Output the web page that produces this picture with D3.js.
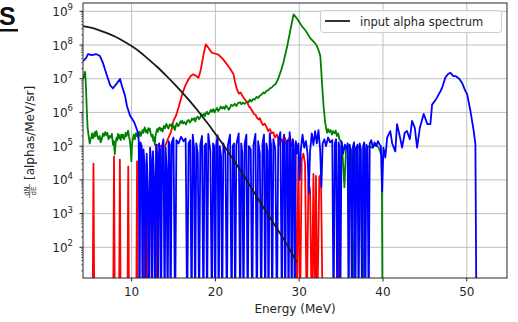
<!DOCTYPE html>
<html>
<head>
<meta charset="utf-8">
<script src="https://cdn.jsdelivr.net/npm/d3@7"></script>
<style>
  body { margin: 0; background: #fff; }
  svg { display: block; font-family: "DejaVu Sans", sans-serif; }
</style>
</head>
<body>
<div id="chart"></div>
<script>
// energies in MeV, values in alphas/MeV/sr (0 = empty bin)
const inputSpectrum = [[4.2,3.63e8],[5,3.31e8],[6,2.82e8],[7,2.29e8],[8,1.78e8],[9,1.32e8],[10,9.3e7],
  [11,6.2e7],[12,3.8e7],[13,2.3e7],[14,1.32e7],[15,7.4e6],[16,4.0e6],[17,2.1e6],[18,1.05e6],[19,5.0e5],
  [20,2.3e5],[21,1.05e5],[22,4.5e4],[23,1.9e4],[24,7.6e3],[25,3.0e3],[26,1.2e3],[27,490],[28,200],[29,76],[29.7,36]];

const redSpectrum = [[4.2,0],[5.35,0],[5.45,3e4],[5.55,0],[7.8,0],[7.9,5e4],[8.0,0],[8.5,0],[8.6,4e4],[8.7,0],
  [9.5,0],[9.6,2.5e4],[9.7,0],[10.55,0],[10.65,3.5e4],[10.75,0],[11.45,0],[11.55,8e3],[11.65,0],[11.75,7e3],
  [11.85,7.5e3],[11.95,0],[12.9,0],[13.0,1.1e5],[13.3,1.0e5],[13.7,1.0e5],[14.0,1.0e5],[14.4,1.8e5],[14.7,2.6e5],
  [14.99,5.6e5],[15.3,8e5],[15.6,1.4e6],[15.9,2.6e6],[16.18,4.4e6],[16.5,7e6],[16.78,9.5e6],[17.1,1.25e7],
  [17.38,1.35e7],[17.7,1.2e7],[17.98,1.07e7],[18.2,1.6e7],[18.38,2.7e7],[18.6,5.5e7],[18.86,1.05e8],[19.2,8e7],
  [19.58,5.9e7],[19.9,5.6e7],[20.36,5.2e7],[20.9,3.8e7],[21.37,2.7e7],[21.8,1.9e7],[22.16,1.35e7],[22.35,8e6],
  [22.56,4.9e6],[22.8,3.6e6],[23.0,3.9e6],[23.35,2.75e6],[23.6,2.3e6],[23.8,2.0e6],[24.0,1.5e6],[24.15,1.4e6],
  [24.4,1.1e6],[24.6,9e5],[24.8,8.5e5],[24.95,7e5],[25.15,6.2e5],[25.3,6.8e5],[25.5,5.0e5],[25.7,4.2e5],
  [25.9,4.6e5],[26.15,3.5e5],[26.3,2.8e5],[26.5,3.2e5],[26.7,2.4e5],[26.9,2.6e5],[27.1,1.8e5],[27.34,2.2e5],
  [27.5,1.6e5],[27.7,1.1e5],[27.9,1.6e5],[28.1,1.3e5],[28.3,1.8e5],[28.5,1.0e5],[28.7,1.5e5],[28.9,1.9e5],
  [29.05,1.0e5],[29.2,1.2e5],[29.35,6e4],[29.5,8e4],[29.7,0],[29.9,5e4],[30.1,0],[30.3,4e4],[30.5,6e4],[30.7,3e4],
  [30.9,0],[31.1,9e3],[31.3,5e3],[31.5,0],[31.7,1.5e4],[31.85,0],[32.0,1.3e4],[32.15,0],[32.4,1.2e4],[32.6,1.5e4],
  [32.8,0],[34.6,0],[34.75,6e4],[34.9,0],[54.8,0]];

const greenSpectrum = [[4.2,1.0e7],[4.35,1.3e7],[4.45,1.6e7],[4.55,6e6],[4.65,1.2e6],[4.75,3.5e5],[4.9,1.8e5],
  [5.0,1.2e5],[5.1,1.6e5],[5.2,1.9e5],[5.3,2.4e5],[5.4,1.7e5],[5.5,1.9e5],[5.6,2.6e5],[5.7,2.0e5],[5.8,2.8e5],
  [5.9,2.1e5],[6.05,1.6e5],[6.2,2.0e5],[6.3,1.3e5],[6.39,1.45e5],[6.5,1.9e5],[6.6,2.4e5],[6.7,2.0e5],[6.85,2.6e5],
  [6.98,2.1e5],[7.1,2.5e5],[7.25,1.6e5],[7.4,2.0e5],[7.5,1.8e5],[7.65,2.3e5],[7.78,1.1e5],[7.88,1.4e5],[7.99,5.8e4],
  [8.1,1.3e5],[8.2,1.8e5],[8.3,1.5e5],[8.38,2.3e5],[8.5,1.7e5],[8.6,2.1e5],[8.7,1.5e5],[8.8,2.2e5],[8.9,1.8e5],
  [8.98,2.2e5],[9.1,1.6e5],[9.2,1.9e5],[9.3,2.5e5],[9.4,2.0e5],[9.5,2.4e5],[9.58,2.9e5],[9.7,1.9e5],[9.8,1.4e5],
  [9.9,8e4],[9.97,3.6e4],[10.05,1.1e5],[10.15,1.7e5],[10.25,2.2e5],[10.38,1.6e5],[10.5,2.4e5],[10.6,2.0e5],
  [10.7,2.6e5],[10.8,1.8e5],[10.9,2.4e5],[10.97,2.7e5],[11.1,2.0e5],[11.2,2.4e5],[11.3,3.0e5],[11.4,2.5e5],
  [11.5,3.2e5],[11.57,3.6e5],[11.7,2.6e5],[11.8,3.0e5],[11.9,2.4e5],[12.0,3.4e5],[12.1,2.9e5],[12.17,3.3e5],
  [12.3,2.3e5],[12.4,1.9e5],[12.5,2.2e5],[12.6,1.4e5],[12.7,1.8e5],[12.77,1.1e5],[12.85,2.0e5],[12.95,2.6e5],
  [13.05,3.2e5],[13.15,2.7e5],[13.25,3.4e5],[13.36,3.6e5],[13.5,2.9e5],[13.6,3.3e5],[13.7,2.7e5],[13.85,4.0e5],
  [14.0,3.4e5],[14.15,4.6e5],[14.3,3.7e5],[14.4,3.3e5],[14.55,4.4e5],[14.7,4.0e5],[14.85,4.6e5],[14.95,3.5e5],
  [15.05,3.9e5],[15.16,3.0e5],[15.3,4.2e5],[15.4,4.8e5],[15.55,3.9e5],[15.7,4.4e5],[15.85,5.5e5],[15.95,4.9e5],
  [16.05,5.6e5],[16.15,4.7e5],[16.3,5.2e5],[16.5,4.4e5],[16.65,5.6e5],[16.8,6.0e5],[16.95,5.0e5],[17.1,5.6e5],
  [17.2,6.6e5],[17.34,6.0e5],[17.5,6.8e5],[17.6,5.4e5],[17.75,7.0e5],[17.9,7.5e5],[18.05,6.3e5],[18.2,7.2e5],
  [18.35,8.8e5],[18.5,8.0e5],[18.65,9.2e5],[18.75,7.8e5],[18.9,9.6e5],[18.98,1.05e6],[19.15,8.8e5],[19.3,9.8e5],
  [19.45,1.2e6],[19.6,1.05e6],[19.75,1.25e6],[19.9,1.0e6],[20.05,1.2e6],[20.2,1.35e6],[20.35,1.1e6],[20.5,1.25e6],
  [20.65,1.5e6],[20.8,1.3e6],[20.95,1.45e6],[21.1,1.25e6],[21.25,1.6e6],[21.4,1.45e6],[21.6,1.2e6],[21.76,1.4e6],
  [21.9,1.7e6],[22.1,1.55e6],[22.3,1.8e6],[22.5,1.55e6],[22.7,1.9e6],[22.96,2.0e6],[23.1,1.75e6],[23.3,1.95e6],
  [23.5,1.8e6],[23.76,2.1e6],[23.95,2.0e6],[24.1,2.4e6],[24.3,2.1e6],[24.5,2.5e6],[24.7,2.4e6],[24.9,2.9e6],
  [25.1,2.7e6],[25.3,3.1e6],[25.5,3.4e6],[25.74,3.9e6],[25.9,3.7e6],[26.1,4.4e6],[26.3,4.5e6],[26.5,5.2e6],
  [26.7,5.4e6],[26.94,6.3e6],[27.2,7.0e6],[27.5,1.0e7],[27.85,1.8e7],[28.1,2.9e7],[28.6,1.0e8],[29.0,3.2e8],
  [29.33,8.1e8],[29.8,5.8e8],[30.33,3.6e8],[30.8,2.6e8],[31.32,1.6e8],[31.8,1.2e8],[32.12,9.3e7],[32.35,6.5e7],
  [32.52,4.7e7],[32.62,2e7],[32.72,7.6e6],[32.91,1.55e6],[33.1,5e5],[33.32,2.5e5],[33.45,3.2e5],[33.6,2.6e5],
  [33.75,3.0e5],[33.9,2.2e5],[34.05,2.8e5],[34.2,2.4e5],[34.35,2.9e5],[34.5,2.0e5],[34.65,2.4e5],[34.8,1.6e5],
  [35.1,1.2e5],[35.4,6e3],[35.6,9e4],[35.9,1.0e5],[36.2,8e4],[36.45,0],[36.7,9e4],[37.0,1.0e5],[37.3,8e4],[37.6,0],
  [37.9,8e4],[38.3,1.0e5],[38.7,9e4],[39.1,1.1e5],[39.5,9e4],[39.85,5e4],[39.95,0],[54.8,0]];

const blueSpectrum = [[4.2,3.3e7],[4.56,4.1e7],[4.8,5.4e7],[5.28,5.0e7],[5.75,5.4e7],[6.23,4.7e7],[6.59,2.9e7],
  [6.95,1.5e7],[7.43,6.5e6],[7.78,5.2e6],[8.26,7.4e6],[8.62,9.8e6],[8.86,6e6],[9.22,3.1e6],[9.46,1.5e6],[9.82,8e5],
  [10.3,5.2e5],[10.77,2.5e5],[10.85,1.5e5],[10.95,0],[11.05,1.3e5],[11.2,1.0e5],[11.31,0],[11.42,8e4],[11.55,3e4],
  [11.67,0],[11.8,6e4],[11.95,5e3],[12.09,0],[12.2,9e4],[12.32,4e4],[12.44,0],[12.55,7e4],[12.68,1.2e4],[12.8,0],
  [12.92,1.1e5],[13.05,6e4],[13.16,0],[13.28,1.2e5],[13.4,8e4],[13.52,0],[13.64,1.0e5],[13.8,1.6e5],[13.94,0],
  [14.06,9e4],[14.18,2e4],[14.3,0],[14.42,1.4e5],[14.55,1.1e5],[14.65,0],[14.8,1.3e5],[15.0,1.8e5],[15.19,0],
  [15.35,1.5e5],[15.6,1.2e5],[15.9,1.9e5],[16.2,1.4e5],[16.45,1.7e5],[16.63,0],[16.8,1.2e5],[17.0,1.5e5],[17.16,0],
  [17.3,2.2e5],[17.45,9e4],[17.58,0],[17.72,1.2e5],[17.9,6e4],[18.06,0],[18.2,1.1e5],[18.4,2.0e5],[18.57,0],
  [18.7,1.0e5],[18.88,1.2e5],[19.01,0],[19.15,2.3e5],[19.4,7e4],[19.58,0],[19.72,1.2e5],[19.85,1.0e5],[19.97,0],
  [20.1,1.1e5],[20.27,2.1e5],[20.39,0],[20.52,1.0e5],[20.68,5e4],[20.81,0],[20.95,1.2e5],[21.2,6e4],[21.37,0],
  [21.5,1.1e5],[21.75,2.2e5],[21.94,0],[22.07,1.0e5],[22.22,1.2e5],[22.36,0],[22.5,1.1e5],[22.78,2.4e5],[22.96,0],
  [23.08,1.2e5],[23.22,6e4],[23.35,0],[23.5,1.2e5],[23.7,2.2e5],[23.85,0],[24.0,1.0e5],[24.22,8e4],[24.39,0],
  [24.55,1.1e5],[24.78,2.3e5],[24.95,0],[25.1,1.4e5],[25.3,6e4],[25.47,0],[25.62,1.2e5],[25.8,2.2e5],[25.94,0],
  [26.08,1.2e5],[26.22,7e4],[26.34,0],[26.48,2.4e5],[26.64,1.1e5],[26.78,0],[26.92,1.6e5],[27.15,8e4],[27.34,0],
  [27.5,1.4e5],[27.75,2.6e5],[27.94,0],[28.06,1.3e5],[28.2,2.2e5],[28.33,0],[28.46,1.2e5],[28.6,1.5e5],[28.73,0],
  [28.86,2.6e5],[28.98,1.2e5],[29.11,0],[29.23,1.6e5],[29.35,1.1e5],[29.47,0],[29.6,1.4e5],[29.75,6e4],[29.9,1.2e5],
  [30.05,1.0e4],[30.2,8e4],[30.4,2.2e5],[30.6,9e4],[30.8,1.4e5],[31.0,6e4],[31.15,4e3],[31.3,7e4],[31.5,2.4e5],
  [31.7,1.1e5],[31.9,2.8e5],[32.1,1.2e5],[32.3,3e5],[32.5,8e4],[32.65,6e3],[32.8,1.2e5],[33.0,1.6e5],[33.2,1.0e5],
  [33.45,1.8e5],[33.7,1.3e5],[33.95,1.5e5],[34.1,0],[34.25,1.2e5],[34.4,1.6e5],[34.55,0],[34.7,1.3e5],[34.8,1.0e5],
  [34.9,0],[35.05,1.4e5],[35.25,6e4],[35.45,1.1e5],[35.65,8e4],[35.78,1.2e5],[35.9,0],[36.02,1.1e5],[36.15,7e4],
  [36.3,0],[36.42,1.0e5],[36.55,1.3e5],[36.7,0],[36.83,9e4],[36.96,1.1e5],[37.09,0],[37.22,1.2e5],[37.36,8e4],
  [37.5,0],[37.63,1.0e5],[37.76,1.3e5],[37.89,0],[38.02,1.1e5],[38.15,9e4],[38.29,0],[38.42,1.2e5],[38.6,1.5e5],
  [38.8,9e4],[39.0,1.3e5],[39.2,1.0e5],[39.4,1.4e5],[39.6,1.1e5],[39.75,1.0e5],[39.9,4.5e3],[40.05,9e4],
  [40.28,4.6e4],[40.5,1.8e5],[40.87,2.8e5],[41.1,1.2e5],[41.47,7e4],[41.68,4.5e5],[42.0,2.0e5],[42.28,9e4],
  [42.6,2.5e5],[42.87,2.8e5],[43.2,1.6e5],[43.47,5.6e5],[43.8,3.5e5],[44.07,9e4],[44.4,3.5e5],[44.86,9e5],
  [45.3,4.5e5],[45.66,4.5e5],[45.86,1.7e6],[46.2,2.2e6],[46.46,2.8e6],[46.8,4e6],[47.06,5.4e6],[47.45,1.1e7],
  [47.8,1.4e7],[48.05,1.5e7],[48.4,1.2e7],[48.65,1.2e7],[49.1,1.0e7],[49.44,7.5e6],[49.8,4.5e6],[50.04,3.5e6],
  [50.44,1.1e6],[50.83,2.8e5],[51.03,1.15e5],[51.15,0],[54.8,0]];

const xTicks = [10, 20, 30, 40, 50];
const yExponents = [2, 3, 4, 5, 6, 7, 8, 9];
const legendLabel = "input alpha spectrum";
const xLabel = "Energy (MeV)";

const W = 518, H = 322;
const plot = { left: 83, right: 507, top: 3, bottom: 278 };

const svg = d3.select("#chart").append("svg")
  .attr("width", W).attr("height", H);
svg.append("rect").attr("width", W).attr("height", H).attr("fill", "#fff");

const x = d3.scaleLinear().domain([4.2, 54.8]).range([plot.left, plot.right]);
const y = d3.scaleLog().domain([12.27, 1.762e9]).range([plot.bottom, plot.top]);

// grid
const grid = svg.append("g").attr("stroke", "#b0b0b0").attr("stroke-width", 0.8);
grid.selectAll(".gx").data(xTicks).enter().append("line")
  .attr("x1", d => x(d)).attr("x2", d => x(d))
  .attr("y1", plot.top).attr("y2", plot.bottom);
grid.selectAll(".gy").data(yExponents).enter().append("line")
  .attr("x1", plot.left).attr("x2", plot.right)
  .attr("y1", d => y(Math.pow(10, d))).attr("y2", d => y(Math.pow(10, d)));

// curves, empty bins drop below the axes
svg.append("clipPath").attr("id", "clip").append("rect")
  .attr("x", plot.left).attr("y", plot.top)
  .attr("width", plot.right - plot.left).attr("height", plot.bottom - plot.top);

const line = d3.line()
  .x(d => x(d[0]))
  .y(d => d[1] > 0 ? y(d[1]) : plot.bottom + 40);

const curves = svg.append("g").attr("clip-path", "url(#clip)")
  .attr("fill", "none").attr("stroke-linejoin", "round");
curves.append("path").datum(redSpectrum).attr("d", line).attr("stroke", "#ff0000").attr("stroke-width", 1.8);
curves.append("path").datum(greenSpectrum).attr("d", line).attr("stroke", "#008000").attr("stroke-width", 1.8);
curves.append("path").datum(blueSpectrum).attr("d", line).attr("stroke", "#0000ff").attr("stroke-width", 1.8);
curves.append("path").datum(inputSpectrum).attr("d", line.curve(d3.curveMonotoneX))
  .attr("stroke", "#1a1a1a").attr("stroke-width", 1.8);

// frame
svg.append("rect")
  .attr("x", plot.left).attr("y", plot.top)
  .attr("width", plot.right - plot.left).attr("height", plot.bottom - plot.top)
  .attr("fill", "none").attr("stroke", "#262626").attr("stroke-width", 1);

// x ticks
const xt = svg.append("g");
xt.selectAll("line").data(xTicks).enter().append("line")
  .attr("x1", d => x(d)).attr("x2", d => x(d))
  .attr("y1", plot.bottom).attr("y2", plot.bottom + 3.5)
  .attr("stroke", "#262626");
xt.selectAll("text").data(xTicks).enter().append("text")
  .attr("x", d => x(d)).attr("y", plot.bottom + 18)
  .attr("text-anchor", "middle").attr("font-size", 12).attr("fill", "#262626")
  .text(d => d);

// y ticks, major + minor
const minor = [];
for (let e = 1; e <= 9; e++) for (let m = 2; m <= 9; m++) {
  const v = m * Math.pow(10, e);
  if (v >= y.domain()[0] && v <= y.domain()[1]) minor.push(v);
}
const yt = svg.append("g");
yt.selectAll(".minor").data(minor).enter().append("line")
  .attr("x1", plot.left - 2).attr("x2", plot.left)
  .attr("y1", d => y(d)).attr("y2", d => y(d))
  .attr("stroke", "#262626").attr("stroke-width", 0.6);
yt.selectAll(".major").data(yExponents).enter().append("line")
  .attr("x1", plot.left - 3.5).attr("x2", plot.left)
  .attr("y1", d => y(Math.pow(10, d))).attr("y2", d => y(Math.pow(10, d)))
  .attr("stroke", "#262626");
const ylab = yt.selectAll("text").data(yExponents).enter().append("text")
  .attr("x", plot.left - 10).attr("y", d => y(Math.pow(10, d)) + 4.5)
  .attr("text-anchor", "end").attr("font-size", 12).attr("fill", "#262626");
ylab.append("tspan").text("10");
ylab.append("tspan").attr("dy", -5.5).attr("font-size", 8.5).text(d => d);

// axis labels
svg.append("text")
  .attr("x", (plot.left + plot.right) / 2).attr("y", 313)
  .attr("text-anchor", "middle").attr("font-size", 12).attr("fill", "#262626")
  .text(xLabel);

const yl = svg.append("g").attr("transform", "translate(30,129) rotate(-90)").attr("fill", "#262626");
yl.append("text").attr("x", -62).attr("y", -1.5).attr("text-anchor", "middle").attr("font-size", 7).text("dN");
yl.append("line").attr("x1", -69).attr("x2", -55).attr("y1", -0.3).attr("y2", -0.3)
  .attr("stroke", "#262626").attr("stroke-width", 0.6);
yl.append("text").attr("x", -62).attr("y", 5.5).attr("text-anchor", "middle").attr("font-size", 7).text("dE");
yl.append("text").attr("x", -51).attr("y", 4).attr("font-size", 12).text("[alphas/MeV/sr]");

// legend
const lg = svg.append("g");
lg.append("rect").attr("x", 320.5).attr("y", 10.5).attr("width", 181).attr("height", 22).attr("rx", 3)
  .attr("fill", "#fff").attr("fill-opacity", 0.8).attr("stroke", "#cccccc");
lg.append("line").attr("x1", 325).attr("x2", 350).attr("y1", 21).attr("y2", 21)
  .attr("stroke", "#1a1a1a").attr("stroke-width", 1.8);
lg.append("text").attr("x", 360).attr("y", 25.5).attr("font-size", 11.5).attr("fill", "#262626").text(legendLabel);

// cropped heading from the page
svg.append("text").attr("x", -1).attr("y", 25)
  .attr("font-family", "Liberation Sans, Arial, sans-serif").attr("font-weight", "bold")
  .attr("font-size", 25).attr("fill", "#111").text("S");
svg.append("rect").attr("x", 0).attr("y", 29).attr("width", 18).attr("height", 2.5).attr("fill", "#111");
</script>
</body>
</html>
